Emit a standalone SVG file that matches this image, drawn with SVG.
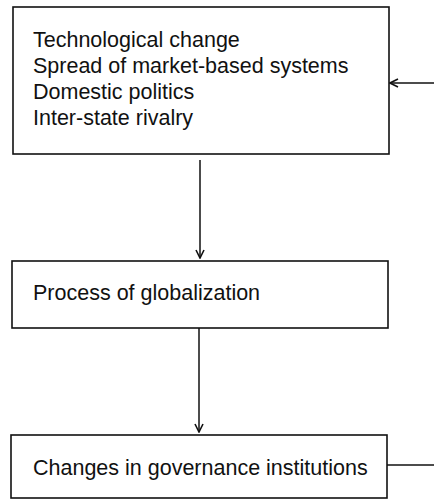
<svg xmlns="http://www.w3.org/2000/svg" width="434" height="501" viewBox="0 0 434 501">
<defs>
<style>
.box{fill:#fff;stroke:#111;stroke-width:1.6}
.t{font-family:"Liberation Sans",Arial,sans-serif;font-size:21.5px;fill:#111}
.c{fill:none;stroke:#111;stroke-width:1.5}
</style>
<marker id="arr" viewBox="0 0 10 10" refX="9" refY="5" markerWidth="10" markerHeight="10" markerUnits="userSpaceOnUse" orient="auto">
<path d="M1,1 L9,5 L1,9" fill="none" stroke="#111" stroke-width="1.6"/>
</marker>
</defs>
<rect width="434" height="501" fill="#fff"/>
<g id="drivers">
<rect class="box" x="13" y="7" width="376" height="147"/>
<text class="t" x="33" y="47">Technological change</text>
<text class="t" x="33" y="73">Spread of market-based systems</text>
<text class="t" x="33" y="99">Domestic politics</text>
<text class="t" x="33" y="125">Inter-state rivalry</text>
</g>
<g id="globalization">
<rect class="box" x="12" y="261" width="376" height="67"/>
<text class="t" x="33" y="300">Process of globalization</text>
</g>
<g id="governance">
<rect class="box" x="11" y="435" width="376" height="63"/>
<text class="t" x="33" y="475">Changes in governance institutions</text>
</g>
<g id="connectors">
<line class="c" x1="200" y1="160" x2="200" y2="258" marker-end="url(#arr)"/>
<line class="c" x1="199" y1="328" x2="199" y2="432" marker-end="url(#arr)"/>
<line class="c" x1="387" y1="465" x2="434" y2="465"/>
<line class="c" x1="434" y1="83" x2="390" y2="83" marker-end="url(#arr)"/>
</g>
</svg>
